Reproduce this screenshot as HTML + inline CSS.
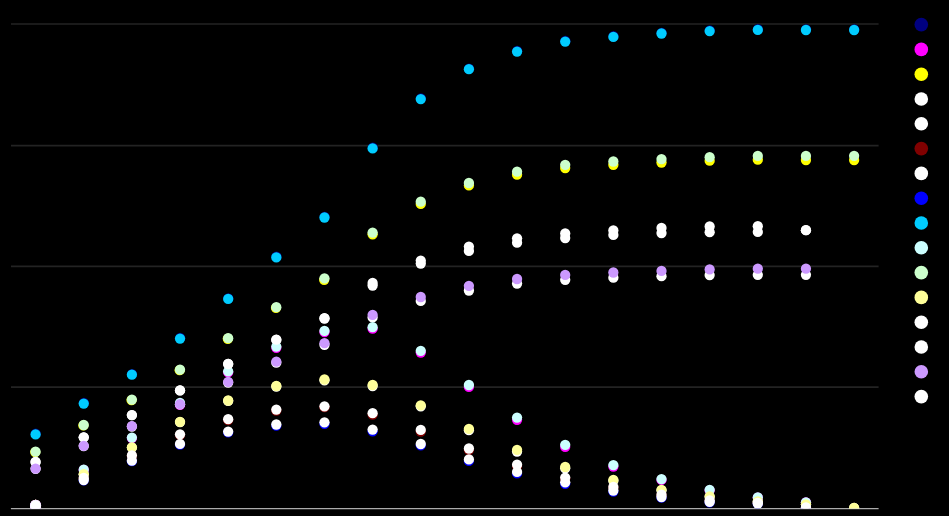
<!DOCTYPE html>
<html><head><meta charset="utf-8"><title>chart</title>
<style>
html,body{margin:0;padding:0;background:#000;font-family:"Liberation Sans",sans-serif;}
body{width:949px;height:516px;overflow:hidden;}
svg{display:block;}
</style></head><body>
<svg width="949" height="516" viewBox="0 0 949 516">
<rect x="0" y="0" width="949" height="516" fill="#000"/>
<defs><clipPath id="plot"><rect x="0" y="0" width="900" height="508.6"/></clipPath></defs>

<g stroke="#232323" stroke-width="1.7">
<line x1="11" y1="24.0" x2="878.6" y2="24.0"/>
<line x1="11" y1="145.7" x2="878.6" y2="145.7"/>
<line x1="11" y1="266.3" x2="878.6" y2="266.3"/>
<line x1="11" y1="387.05" x2="878.6" y2="387.05"/>
</g>
<line x1="10.9" y1="508.58" x2="878.6" y2="508.58" stroke="#ababab" stroke-width="1.35"/>
<g clip-path="url(#plot)">
<g fill="#000080">
<circle cx="35.73" cy="433.75" r="5.13"/>
<circle cx="83.88" cy="402.95" r="5.13"/>
<circle cx="132.03" cy="374.05" r="5.13"/>
<circle cx="180.17" cy="337.95" r="5.13"/>
<circle cx="228.32" cy="298.30" r="5.13"/>
<circle cx="276.47" cy="256.75" r="5.13"/>
<circle cx="324.62" cy="216.85" r="5.13"/>
<circle cx="372.77" cy="147.75" r="5.13"/>
<circle cx="420.91" cy="98.45" r="5.13"/>
<circle cx="469.06" cy="68.55" r="5.13"/>
<circle cx="517.21" cy="50.95" r="5.13"/>
<circle cx="565.36" cy="40.95" r="5.13"/>
<circle cx="613.51" cy="36.25" r="5.13"/>
<circle cx="661.65" cy="32.85" r="5.13"/>
<circle cx="709.80" cy="30.45" r="5.13"/>
<circle cx="757.95" cy="29.25" r="5.13"/>
<circle cx="806.10" cy="29.35" r="5.13"/>
<circle cx="854.25" cy="29.35" r="5.13"/>
</g>
<g fill="#FF00FF">
<circle cx="35.58" cy="505.00" r="5.13"/>
<circle cx="83.73" cy="470.00" r="5.13"/>
<circle cx="131.88" cy="438.10" r="5.13"/>
<circle cx="180.02" cy="404.90" r="5.13"/>
<circle cx="228.17" cy="372.30" r="5.13"/>
<circle cx="276.32" cy="347.80" r="5.13"/>
<circle cx="324.47" cy="332.00" r="5.13"/>
<circle cx="372.62" cy="328.70" r="5.13"/>
<circle cx="420.76" cy="352.60" r="5.13"/>
<circle cx="468.91" cy="386.90" r="5.13"/>
<circle cx="517.06" cy="419.80" r="5.13"/>
<circle cx="565.21" cy="446.90" r="5.13"/>
<circle cx="613.36" cy="466.60" r="5.13"/>
<circle cx="661.50" cy="479.90" r="5.13"/>
<circle cx="709.65" cy="490.30" r="5.13"/>
<circle cx="757.80" cy="497.60" r="5.13"/>
<circle cx="805.95" cy="502.40" r="5.13"/>
</g>
<g fill="#FFFF00">
<circle cx="35.23" cy="452.10" r="5.13"/>
<circle cx="83.38" cy="425.40" r="5.13"/>
<circle cx="131.53" cy="400.05" r="5.13"/>
<circle cx="179.67" cy="370.20" r="5.13"/>
<circle cx="227.82" cy="338.75" r="5.13"/>
<circle cx="275.97" cy="307.85" r="5.13"/>
<circle cx="324.17" cy="279.80" r="5.13"/>
<circle cx="372.62" cy="234.30" r="5.13"/>
<circle cx="420.76" cy="203.90" r="5.13"/>
<circle cx="468.91" cy="185.40" r="5.13"/>
<circle cx="517.06" cy="174.70" r="5.13"/>
<circle cx="565.21" cy="168.00" r="5.13"/>
<circle cx="613.36" cy="164.80" r="5.13"/>
<circle cx="661.50" cy="162.50" r="5.13"/>
<circle cx="709.65" cy="160.70" r="5.13"/>
<circle cx="757.80" cy="159.70" r="5.13"/>
<circle cx="805.95" cy="160.00" r="5.13"/>
<circle cx="854.10" cy="160.10" r="5.13"/>
</g>
<g fill="#FFFFFF">
<circle cx="35.58" cy="505.00" r="5.13"/>
<circle cx="83.73" cy="474.30" r="5.13"/>
<circle cx="131.88" cy="447.60" r="5.13"/>
<circle cx="180.02" cy="422.10" r="5.13"/>
<circle cx="228.17" cy="400.90" r="5.13"/>
<circle cx="276.32" cy="386.50" r="5.13"/>
<circle cx="324.47" cy="380.30" r="5.13"/>
<circle cx="372.62" cy="386.00" r="5.13"/>
<circle cx="420.76" cy="406.30" r="5.13"/>
<circle cx="468.91" cy="430.20" r="5.13"/>
<circle cx="517.06" cy="451.50" r="5.13"/>
<circle cx="565.21" cy="468.30" r="5.13"/>
<circle cx="613.36" cy="480.80" r="5.13"/>
<circle cx="661.50" cy="490.30" r="5.13"/>
<circle cx="709.65" cy="496.80" r="5.13"/>
<circle cx="757.80" cy="501.60" r="5.13"/>
<circle cx="805.95" cy="504.40" r="5.13"/>
<circle cx="854.10" cy="508.00" r="5.13"/>
</g>
<g fill="#FFFFFF">
<circle cx="35.58" cy="462.00" r="5.13"/>
<circle cx="83.73" cy="437.30" r="5.13"/>
<circle cx="131.88" cy="415.10" r="5.13"/>
<circle cx="180.02" cy="390.40" r="5.13"/>
<circle cx="228.17" cy="364.00" r="5.13"/>
<circle cx="276.32" cy="339.90" r="5.13"/>
<circle cx="324.47" cy="318.50" r="5.13"/>
<circle cx="372.62" cy="285.60" r="5.13"/>
<circle cx="420.76" cy="263.60" r="5.13"/>
<circle cx="468.91" cy="250.90" r="5.13"/>
<circle cx="517.06" cy="242.70" r="5.13"/>
<circle cx="565.21" cy="238.00" r="5.13"/>
<circle cx="613.36" cy="234.90" r="5.13"/>
<circle cx="661.50" cy="233.10" r="5.13"/>
<circle cx="709.65" cy="232.20" r="5.13"/>
<circle cx="757.80" cy="231.90" r="5.13"/>
<circle cx="805.95" cy="230.20" r="5.13"/>
</g>
<g fill="#800000">
<circle cx="35.58" cy="505.00" r="5.13"/>
<circle cx="83.73" cy="478.30" r="5.13"/>
<circle cx="131.88" cy="456.00" r="5.13"/>
<circle cx="180.02" cy="435.00" r="5.13"/>
<circle cx="228.17" cy="420.00" r="5.13"/>
<circle cx="276.32" cy="410.50" r="5.13"/>
<circle cx="324.47" cy="407.20" r="5.13"/>
<circle cx="372.62" cy="414.70" r="5.13"/>
<circle cx="420.76" cy="431.50" r="5.13"/>
<circle cx="468.91" cy="450.00" r="5.13"/>
<circle cx="517.06" cy="466.00" r="5.13"/>
<circle cx="565.21" cy="478.60" r="5.13"/>
<circle cx="613.36" cy="487.60" r="5.13"/>
<circle cx="661.50" cy="495.00" r="5.13"/>
<circle cx="709.65" cy="500.70" r="5.13"/>
<circle cx="757.80" cy="502.90" r="5.13"/>
<circle cx="805.95" cy="507.50" r="5.13"/>
</g>
<g fill="#FFFFFF">
<circle cx="35.58" cy="468.80" r="5.13"/>
<circle cx="83.73" cy="446.00" r="5.13"/>
<circle cx="131.88" cy="426.50" r="5.13"/>
<circle cx="180.02" cy="404.30" r="5.13"/>
<circle cx="228.17" cy="382.60" r="5.13"/>
<circle cx="276.32" cy="362.70" r="5.13"/>
<circle cx="324.47" cy="344.80" r="5.13"/>
<circle cx="372.62" cy="317.40" r="5.13"/>
<circle cx="420.76" cy="300.90" r="5.13"/>
<circle cx="468.91" cy="290.50" r="5.13"/>
<circle cx="517.06" cy="283.60" r="5.13"/>
<circle cx="565.21" cy="279.80" r="5.13"/>
<circle cx="613.36" cy="277.70" r="5.13"/>
<circle cx="661.50" cy="276.20" r="5.13"/>
<circle cx="709.65" cy="275.10" r="5.13"/>
<circle cx="757.80" cy="274.80" r="5.13"/>
<circle cx="805.95" cy="274.80" r="5.13"/>
</g>
<g fill="#0000FF">
<circle cx="35.58" cy="505.30" r="5.13"/>
<circle cx="83.73" cy="480.30" r="5.13"/>
<circle cx="131.88" cy="461.20" r="5.13"/>
<circle cx="180.02" cy="444.60" r="5.13"/>
<circle cx="228.17" cy="432.40" r="5.13"/>
<circle cx="276.32" cy="425.70" r="5.13"/>
<circle cx="324.47" cy="423.80" r="5.13"/>
<circle cx="372.62" cy="431.30" r="5.13"/>
<circle cx="420.76" cy="445.30" r="5.13"/>
<circle cx="468.91" cy="460.90" r="5.13"/>
<circle cx="517.06" cy="473.40" r="5.13"/>
<circle cx="565.21" cy="483.80" r="5.13"/>
<circle cx="613.36" cy="491.60" r="5.13"/>
<circle cx="661.50" cy="497.70" r="5.13"/>
<circle cx="709.65" cy="502.30" r="5.13"/>
<circle cx="757.80" cy="503.70" r="5.13"/>
<circle cx="805.95" cy="508.00" r="5.13"/>
</g>
<g fill="#00CCFF">
<circle cx="35.58" cy="434.40" r="5.13"/>
<circle cx="83.73" cy="403.60" r="5.13"/>
<circle cx="131.88" cy="374.70" r="5.13"/>
<circle cx="180.02" cy="338.60" r="5.13"/>
<circle cx="228.17" cy="298.95" r="5.13"/>
<circle cx="276.32" cy="257.40" r="5.13"/>
<circle cx="324.47" cy="217.50" r="5.13"/>
<circle cx="372.62" cy="148.40" r="5.13"/>
<circle cx="420.76" cy="99.10" r="5.13"/>
<circle cx="468.91" cy="69.20" r="5.13"/>
<circle cx="517.06" cy="51.60" r="5.13"/>
<circle cx="565.21" cy="41.60" r="5.13"/>
<circle cx="613.36" cy="36.90" r="5.13"/>
<circle cx="661.50" cy="33.50" r="5.13"/>
<circle cx="709.65" cy="31.10" r="5.13"/>
<circle cx="757.80" cy="29.90" r="5.13"/>
<circle cx="805.95" cy="30.00" r="5.13"/>
<circle cx="854.10" cy="30.00" r="5.13"/>
</g>
<g fill="#CCFFFF">
<circle cx="35.58" cy="505.00" r="5.13"/>
<circle cx="83.73" cy="469.70" r="5.13"/>
<circle cx="131.88" cy="437.60" r="5.13"/>
<circle cx="180.02" cy="403.00" r="5.13"/>
<circle cx="228.17" cy="371.30" r="5.13"/>
<circle cx="276.32" cy="346.60" r="5.13"/>
<circle cx="324.47" cy="330.80" r="5.13"/>
<circle cx="372.62" cy="327.20" r="5.13"/>
<circle cx="420.76" cy="350.80" r="5.13"/>
<circle cx="468.91" cy="385.00" r="5.13"/>
<circle cx="517.06" cy="417.60" r="5.13"/>
<circle cx="565.21" cy="444.80" r="5.13"/>
<circle cx="613.36" cy="465.10" r="5.13"/>
<circle cx="661.50" cy="479.10" r="5.13"/>
<circle cx="709.65" cy="489.80" r="5.13"/>
<circle cx="757.80" cy="497.40" r="5.13"/>
<circle cx="805.95" cy="502.30" r="5.13"/>
</g>
<g fill="#CCFFCC">
<circle cx="35.58" cy="451.70" r="5.13"/>
<circle cx="83.73" cy="425.00" r="5.13"/>
<circle cx="131.88" cy="399.60" r="5.13"/>
<circle cx="180.02" cy="369.70" r="5.13"/>
<circle cx="228.17" cy="338.20" r="5.13"/>
<circle cx="276.32" cy="307.20" r="5.13"/>
<circle cx="324.47" cy="278.30" r="5.13"/>
<circle cx="372.62" cy="232.60" r="5.13"/>
<circle cx="420.76" cy="201.70" r="5.13"/>
<circle cx="468.91" cy="183.00" r="5.13"/>
<circle cx="517.06" cy="171.70" r="5.13"/>
<circle cx="565.21" cy="164.80" r="5.13"/>
<circle cx="613.36" cy="161.50" r="5.13"/>
<circle cx="661.50" cy="159.10" r="5.13"/>
<circle cx="709.65" cy="157.20" r="5.13"/>
<circle cx="757.80" cy="155.90" r="5.13"/>
<circle cx="805.95" cy="155.90" r="5.13"/>
<circle cx="854.10" cy="155.80" r="5.13"/>
</g>
<g fill="#FFFF99">
<circle cx="35.58" cy="505.00" r="5.13"/>
<circle cx="83.73" cy="474.20" r="5.13"/>
<circle cx="131.88" cy="447.40" r="5.13"/>
<circle cx="180.02" cy="421.80" r="5.13"/>
<circle cx="228.17" cy="400.50" r="5.13"/>
<circle cx="276.32" cy="386.00" r="5.13"/>
<circle cx="324.47" cy="379.50" r="5.13"/>
<circle cx="372.62" cy="385.00" r="5.13"/>
<circle cx="420.76" cy="405.30" r="5.13"/>
<circle cx="468.91" cy="428.80" r="5.13"/>
<circle cx="517.06" cy="449.80" r="5.13"/>
<circle cx="565.21" cy="467.00" r="5.13"/>
<circle cx="613.36" cy="480.00" r="5.13"/>
<circle cx="661.50" cy="489.80" r="5.13"/>
<circle cx="709.65" cy="496.50" r="5.13"/>
<circle cx="757.80" cy="501.50" r="5.13"/>
<circle cx="805.95" cy="504.30" r="5.13"/>
<circle cx="854.10" cy="508.00" r="5.13"/>
</g>
<g fill="#FFFFFF">
<circle cx="35.58" cy="462.00" r="5.13"/>
<circle cx="83.73" cy="437.30" r="5.13"/>
<circle cx="131.88" cy="415.10" r="5.13"/>
<circle cx="180.02" cy="390.40" r="5.13"/>
<circle cx="228.17" cy="364.00" r="5.13"/>
<circle cx="276.32" cy="339.70" r="5.13"/>
<circle cx="324.47" cy="318.20" r="5.13"/>
<circle cx="372.62" cy="282.90" r="5.13"/>
<circle cx="420.76" cy="260.60" r="5.13"/>
<circle cx="468.91" cy="246.60" r="5.13"/>
<circle cx="517.06" cy="238.30" r="5.13"/>
<circle cx="565.21" cy="233.40" r="5.13"/>
<circle cx="613.36" cy="230.40" r="5.13"/>
<circle cx="661.50" cy="228.00" r="5.13"/>
<circle cx="709.65" cy="226.50" r="5.13"/>
<circle cx="757.80" cy="226.20" r="5.13"/>
<circle cx="805.95" cy="230.20" r="5.13"/>
</g>
<g fill="#FFFFFF">
<circle cx="35.58" cy="505.00" r="5.13"/>
<circle cx="83.73" cy="478.00" r="5.13"/>
<circle cx="131.88" cy="455.50" r="5.13"/>
<circle cx="180.02" cy="434.30" r="5.13"/>
<circle cx="228.17" cy="419.20" r="5.13"/>
<circle cx="276.32" cy="409.60" r="5.13"/>
<circle cx="324.47" cy="406.30" r="5.13"/>
<circle cx="372.62" cy="413.20" r="5.13"/>
<circle cx="420.76" cy="429.90" r="5.13"/>
<circle cx="468.91" cy="448.50" r="5.13"/>
<circle cx="517.06" cy="464.70" r="5.13"/>
<circle cx="565.21" cy="477.60" r="5.13"/>
<circle cx="613.36" cy="487.00" r="5.13"/>
<circle cx="661.50" cy="494.70" r="5.13"/>
<circle cx="709.65" cy="500.50" r="5.13"/>
<circle cx="757.80" cy="502.80" r="5.13"/>
<circle cx="805.95" cy="507.50" r="5.13"/>
</g>
<g fill="#CC99FF">
<circle cx="35.58" cy="468.60" r="5.13"/>
<circle cx="83.73" cy="445.80" r="5.13"/>
<circle cx="131.88" cy="426.20" r="5.13"/>
<circle cx="180.02" cy="404.15" r="5.13"/>
<circle cx="228.17" cy="381.90" r="5.13"/>
<circle cx="276.32" cy="361.70" r="5.13"/>
<circle cx="324.47" cy="343.20" r="5.13"/>
<circle cx="372.62" cy="314.80" r="5.13"/>
<circle cx="420.76" cy="297.00" r="5.13"/>
<circle cx="468.91" cy="285.80" r="5.13"/>
<circle cx="517.06" cy="279.00" r="5.13"/>
<circle cx="565.21" cy="274.90" r="5.13"/>
<circle cx="613.36" cy="272.50" r="5.13"/>
<circle cx="661.50" cy="270.90" r="5.13"/>
<circle cx="709.65" cy="269.40" r="5.13"/>
<circle cx="757.80" cy="268.70" r="5.13"/>
<circle cx="805.95" cy="268.70" r="5.13"/>
</g>
<circle cx="35.58" cy="505.5" r="5.55" fill="#CC99FF"/>
<circle cx="35.58" cy="507.4" r="5.55" fill="#CC99FF"/>
<g fill="#FFFFFF">
<circle cx="35.58" cy="505.30" r="5.13"/>
<circle cx="83.73" cy="480.00" r="5.13"/>
<circle cx="131.88" cy="460.70" r="5.13"/>
<circle cx="180.02" cy="443.90" r="5.13"/>
<circle cx="228.17" cy="431.60" r="5.13"/>
<circle cx="276.32" cy="424.50" r="5.13"/>
<circle cx="324.47" cy="422.30" r="5.13"/>
<circle cx="372.62" cy="429.60" r="5.13"/>
<circle cx="420.76" cy="444.00" r="5.13"/>
<circle cx="468.91" cy="459.40" r="5.13"/>
<circle cx="517.06" cy="471.90" r="5.13"/>
<circle cx="565.21" cy="482.30" r="5.13"/>
<circle cx="613.36" cy="490.50" r="5.13"/>
<circle cx="661.50" cy="497.10" r="5.13"/>
<circle cx="709.65" cy="501.90" r="5.13"/>
<circle cx="757.80" cy="503.50" r="5.13"/>
<circle cx="805.95" cy="508.00" r="5.13"/>
</g>
<circle cx="35.58" cy="505.5" r="5.3" fill="#FFFFFF"/>
<circle cx="35.58" cy="507.4" r="5.3" fill="#FFFFFF"/>
</g>
<g>
<circle cx="921.3" cy="24.60" r="6.8" fill="#000080"/>
<circle cx="921.3" cy="49.40" r="6.8" fill="#FF00FF"/>
<circle cx="921.3" cy="74.20" r="6.8" fill="#FFFF00"/>
<circle cx="921.3" cy="99.00" r="6.8" fill="#FFFFFF"/>
<circle cx="921.3" cy="123.80" r="6.8" fill="#FFFFFF"/>
<circle cx="921.3" cy="148.60" r="6.8" fill="#800000"/>
<circle cx="921.3" cy="173.40" r="6.8" fill="#FFFFFF"/>
<circle cx="921.3" cy="198.20" r="6.8" fill="#0000FF"/>
<circle cx="921.3" cy="223.00" r="6.8" fill="#00CCFF"/>
<circle cx="921.3" cy="247.80" r="6.8" fill="#CCFFFF"/>
<circle cx="921.3" cy="272.60" r="6.8" fill="#CCFFCC"/>
<circle cx="921.3" cy="297.40" r="6.8" fill="#FFFF99"/>
<circle cx="921.3" cy="322.20" r="6.8" fill="#FFFFFF"/>
<circle cx="921.3" cy="347.00" r="6.8" fill="#FFFFFF"/>
<circle cx="921.3" cy="371.80" r="6.8" fill="#CC99FF"/>
<circle cx="921.3" cy="396.60" r="6.8" fill="#FFFFFF"/>
</g>
</svg></body></html>
